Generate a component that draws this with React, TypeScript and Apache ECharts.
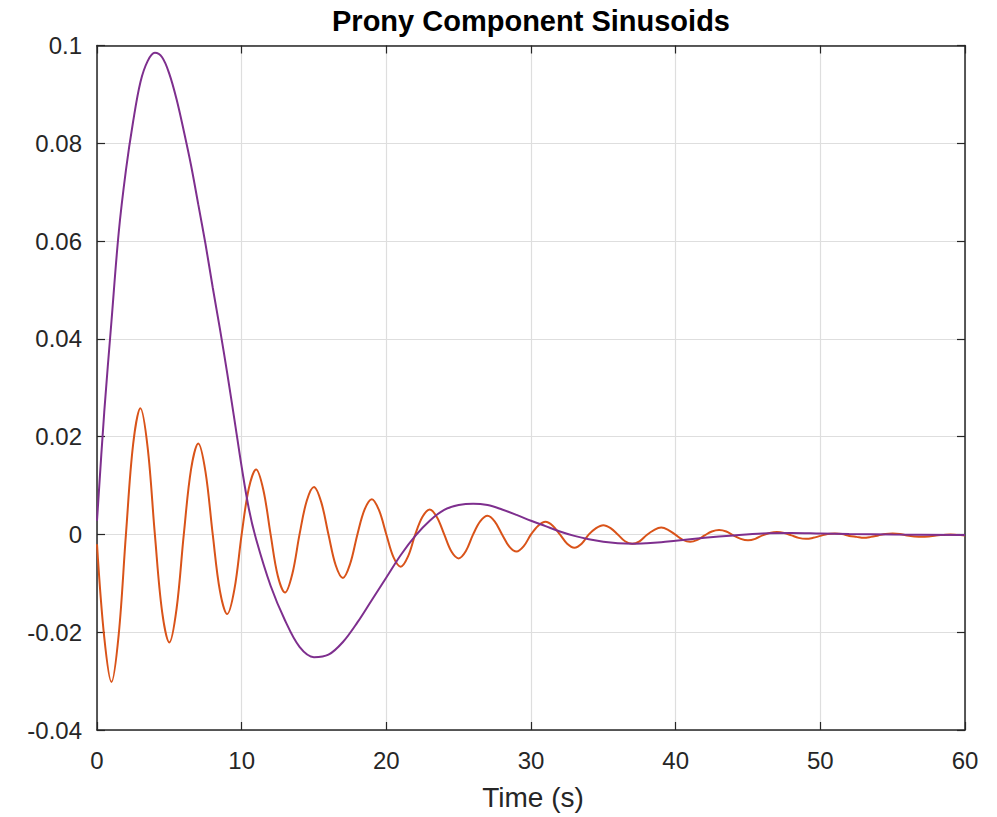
import React, { useEffect, useRef } from "react";
import * as echarts from "echarts";

const titleText = "Prony Component Sinusoids";
const xLabelText = "Time (s)";

const xTicks = { min: 0, max: 60, interval: 10 };
const yTicks = { min: -0.04, max: 0.1, interval: 0.02 };

// orange component (fast oscillation): [time, value] every 0.5 s
const orangePoints: [number, number][] = [
  [0, -0.002], [0.5, -0.021], [1, -0.0302], [1.5, -0.0205], [2, 0.0], [2.5, 0.0185], [3, 0.0258], [3.5, 0.0178],
  [4, 0.0], [4.5, -0.0158], [5, -0.0221], [5.5, -0.0152], [6, 0.0], [6.5, 0.0133], [7, 0.0186], [7.5, 0.0128],
  [8, 0.0], [8.5, -0.0116], [9, -0.0163], [9.5, -0.0112], [10, 0.0], [10.5, 0.0095], [11, 0.0133], [11.5, 0.0091],
  [12, 0.0], [12.5, -0.0085], [13, -0.0119], [13.5, -0.0081], [14, 0.0], [14.5, 0.0069], [15, 0.0097], [15.5, 0.0066],
  [16, 0.0], [16.5, -0.0063], [17, -0.0089], [17.5, -0.006], [18, 0.0], [18.5, 0.0051], [19, 0.0072], [19.5, 0.0049],
  [20, 0.0], [20.5, -0.0047], [21, -0.0066], [21.5, -0.0045], [22, 0.0], [22.5, 0.0036], [23, 0.0051], [23.5, 0.0035],
  [24, 0.0], [24.5, -0.0035], [25, -0.0049], [25.5, -0.0034], [26, 0.0], [26.5, 0.0027], [27, 0.0038], [27.5, 0.0026],
  [28, 0.0], [28.5, -0.0025], [29, -0.0035], [29.5, -0.0024], [30, 0.0], [30.5, 0.0018], [31, 0.0026], [31.5, 0.0018],
  [32, 0.0], [32.5, -0.0019], [33, -0.0027], [33.5, -0.0019], [34, 0.0], [34.5, 0.0013], [35, 0.0019], [35.5, 0.0013],
  [36, 0.0], [36.5, -0.0014], [37, -0.0019], [37.5, -0.0014], [38, -0.0001], [38.5, 0.0009], [39, 0.0014], [39.5, 0.0009],
  [40, -0.0001], [40.5, -0.0011], [41, -0.0015], [41.5, -0.0011], [42, -0.0002], [42.5, 0.0006], [43, 0.0009], [43.5, 0.0006],
  [44, -0.0002], [44.5, -0.0009], [45, -0.0012], [45.5, -0.0009], [46, -0.0002], [46.5, 0.0003], [47, 0.0005], [47.5, 0.0003],
  [48, -0.0002], [48.5, -0.0007], [49, -0.0009], [49.5, -0.0007], [50, -0.0003], [50.5, 0.0001], [51, 0.0002], [51.5, 0.0001],
  [52, -0.0003], [52.5, -0.0005], [53, -0.0007], [53.5, -0.0005], [54, -0.0002], [54.5, 0.0001], [55, 0.0002], [55.5, 0.0001],
  [56, -0.0002], [56.5, -0.0004], [57, -0.0005], [57.5, -0.0004], [58, -0.0002], [58.5, -0.0001], [59, 0.0], [59.5, -0.0001],
  [60, -0.0002],
];

// purple component (slow oscillation): [time, value]
const purplePoints: [number, number][] = [
  [0, 0.0028], [0.5, 0.025], [1, 0.0436], [1.5, 0.0617], [2, 0.0745], [2.5, 0.0845], [3, 0.0925], [3.5, 0.0968],
  [4, 0.0985], [4.5, 0.0976], [5, 0.0942], [5.5, 0.089], [6, 0.0825], [6.5, 0.0755], [7, 0.0675], [7.5, 0.0594],
  [8, 0.0505], [8.5, 0.042], [9, 0.033], [9.5, 0.0235], [10, 0.0138], [10.5, 0.0052], [11, -0.001], [12, -0.0105],
  [13, -0.0176], [14, -0.023], [15, -0.0251], [16, -0.0246], [17, -0.022], [18, -0.018], [19, -0.0134], [20, -0.0088],
  [21, -0.0042], [22, -0.0003], [23, 0.0028], [24, 0.005], [25, 0.006], [26, 0.0063], [27, 0.006], [28, 0.0051],
  [29, 0.004], [30, 0.0028], [31, 0.0017], [32, 0.0006], [33, -0.0003], [34, -0.001], [35, -0.0015], [36, -0.0018],
  [37, -0.0019], [38, -0.0018], [39, -0.0016], [40, -0.0013], [42, -0.0007], [44, -0.0002], [46, 0.0002], [48, 0.0003],
  [50, 0.0002], [52, 0.0001], [55, 0.0], [60, -0.0001],
];

const FONT = "'Liberation Sans', Arial, Helvetica, sans-serif";
const AXIS_COLOR = "#262626";
const GRID_COLOR = "#dedede";

export default function App() {
  const ref = useRef<HTMLDivElement>(null);

  useEffect(() => {
    if (!ref.current) return;
    const chart = echarts.init(ref.current, null, { renderer: "svg" });

    const axisLine = { show: true, onZero: false, lineStyle: { color: AXIS_COLOR, width: 1.5 } };
    const axisTick = { show: true, inside: true, length: 8, lineStyle: { color: AXIS_COLOR, width: 1.2 } };

    chart.setOption({
      animation: false,
      backgroundColor: "#ffffff",
      grid: { left: 97, right: 32, top: 45.5, bottom: 87, containLabel: false },
      xAxis: [
        {
          type: "value",
          position: "bottom",
          min: xTicks.min,
          max: xTicks.max,
          interval: xTicks.interval,
          axisLine,
          axisTick,
          axisLabel: { color: AXIS_COLOR, fontSize: 24, fontFamily: FONT, margin: 18 },
          splitLine: { show: true, lineStyle: { color: GRID_COLOR, width: 1.2 } },
        },
        {
          type: "value",
          position: "top",
          min: xTicks.min,
          max: xTicks.max,
          interval: xTicks.interval,
          axisLine,
          axisTick,
          axisLabel: { show: false },
          splitLine: { show: false },
        },
      ],
      yAxis: [
        {
          type: "value",
          position: "left",
          min: yTicks.min,
          max: yTicks.max,
          interval: yTicks.interval,
          axisLine,
          axisTick,
          axisLabel: { color: AXIS_COLOR, fontSize: 24, fontFamily: FONT, margin: 15 },
          splitLine: { show: true, lineStyle: { color: GRID_COLOR, width: 1.2 } },
        },
        {
          type: "value",
          position: "right",
          min: yTicks.min,
          max: yTicks.max,
          interval: yTicks.interval,
          axisLine,
          axisTick,
          axisLabel: { show: false },
          splitLine: { show: false },
        },
      ],
      series: [
        {
          type: "line",
          data: orangePoints,
          xAxisIndex: 0,
          yAxisIndex: 0,
          smooth: 0.35,
          showSymbol: false,
          lineStyle: { color: "#D95319", width: 2 },
          itemStyle: { color: "#D95319" },
        },
        {
          type: "line",
          data: purplePoints,
          xAxisIndex: 0,
          yAxisIndex: 0,
          smooth: 0.35,
          showSymbol: false,
          lineStyle: { color: "#7E2F8E", width: 2 },
          itemStyle: { color: "#7E2F8E" },
        },
      ],
      graphic: [
        {
          type: "text",
          x: 531,
          y: 21,
          style: {
            text: titleText,
            font: `bold 29px ${FONT}`,
            fill: "#000000",
            textAlign: "center",
            textVerticalAlign: "middle",
          },
        },
        {
          type: "text",
          x: 533,
          y: 797,
          style: {
            text: xLabelText,
            font: `28px ${FONT}`,
            fill: AXIS_COLOR,
            textAlign: "center",
            textVerticalAlign: "middle",
          },
        },
      ],
    });

    return () => chart.dispose();
  }, []);

  return (
    <div
      ref={ref}
      style={{ position: "fixed", left: 0, top: 0, width: 997, height: 817 }}
    />
  );
}
